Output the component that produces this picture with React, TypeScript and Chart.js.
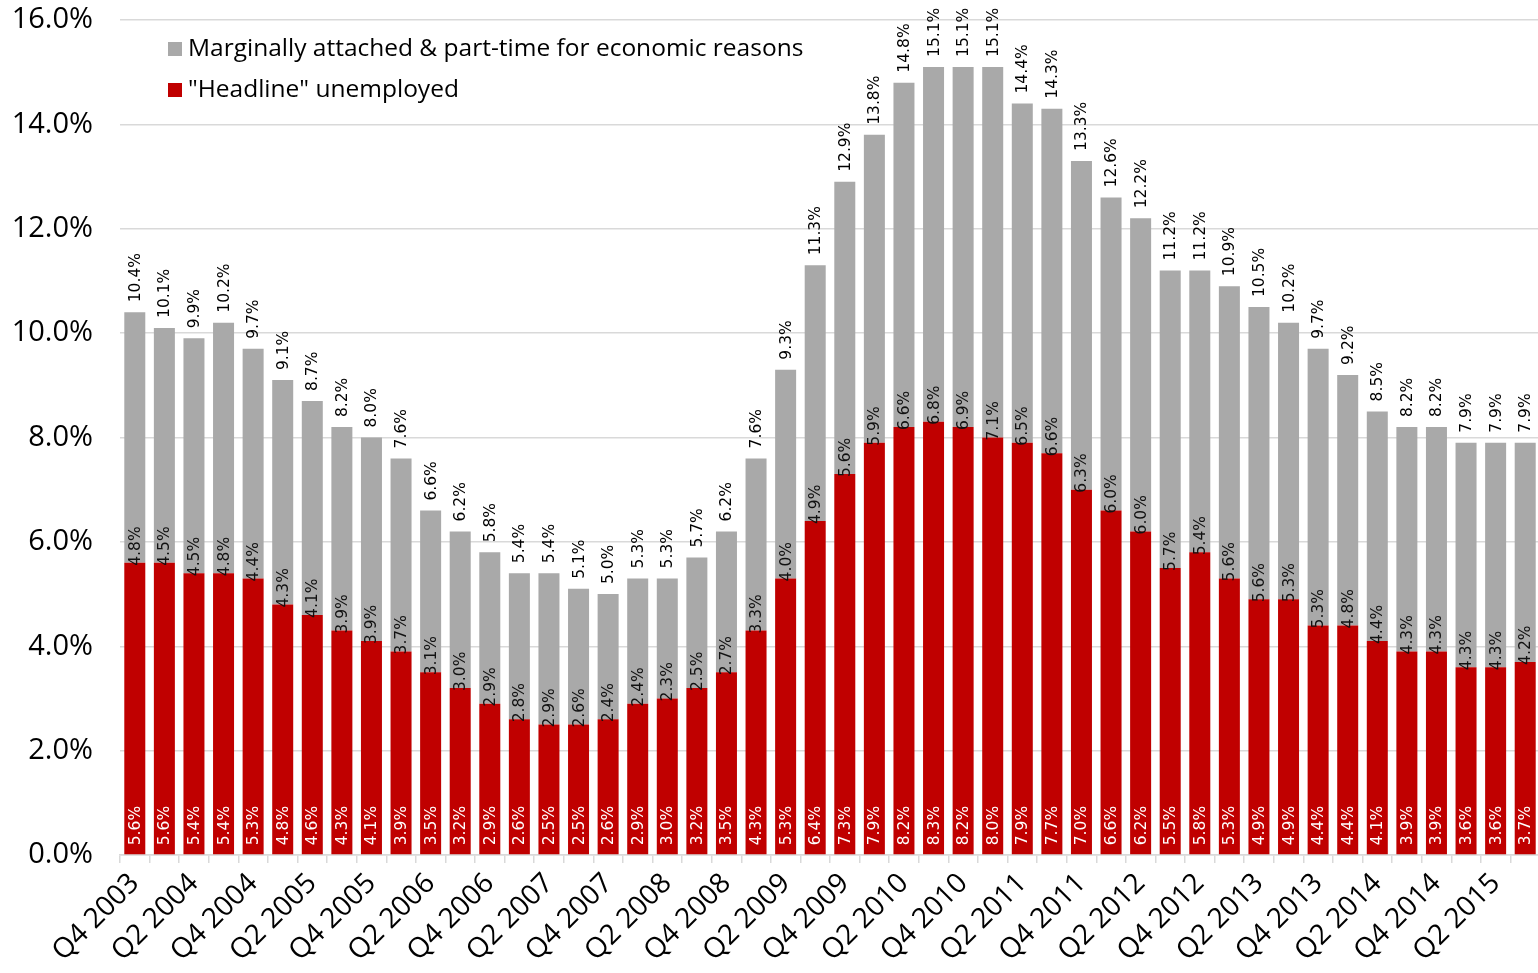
import React, { useEffect, useRef } from 'react';
import { Chart, registerables } from 'chart.js';

Chart.register(...registerables);

const quarters = [
  'Q4 2003',
  'Q1 2004', 'Q2 2004', 'Q3 2004', 'Q4 2004',
  'Q1 2005', 'Q2 2005', 'Q3 2005', 'Q4 2005',
  'Q1 2006', 'Q2 2006', 'Q3 2006', 'Q4 2006',
  'Q1 2007', 'Q2 2007', 'Q3 2007', 'Q4 2007',
  'Q1 2008', 'Q2 2008', 'Q3 2008', 'Q4 2008',
  'Q1 2009', 'Q2 2009', 'Q3 2009', 'Q4 2009',
  'Q1 2010', 'Q2 2010', 'Q3 2010', 'Q4 2010',
  'Q1 2011', 'Q2 2011', 'Q3 2011', 'Q4 2011',
  'Q1 2012', 'Q2 2012', 'Q3 2012', 'Q4 2012',
  'Q1 2013', 'Q2 2013', 'Q3 2013', 'Q4 2013',
  'Q1 2014', 'Q2 2014', 'Q3 2014', 'Q4 2014',
  'Q1 2015', 'Q2 2015', 'Q3 2015',
];

const headline = [
  5.6, 5.6, 5.4, 5.4, 5.3, 4.8, 4.6, 4.3, 4.1, 3.9, 3.5, 3.2,
  2.9, 2.6, 2.5, 2.5, 2.6, 2.9, 3.0, 3.2, 3.5, 4.3, 5.3, 6.4,
  7.3, 7.9, 8.2, 8.3, 8.2, 8.0, 7.9, 7.7, 7.0, 6.6, 6.2, 5.5,
  5.8, 5.3, 4.9, 4.9, 4.4, 4.4, 4.1, 3.9, 3.9, 3.6, 3.6, 3.7,
];

const marginal = [
  4.8, 4.5, 4.5, 4.8, 4.4, 4.3, 4.1, 3.9, 3.9, 3.7, 3.1, 3.0,
  2.9, 2.8, 2.9, 2.6, 2.4, 2.4, 2.3, 2.5, 2.7, 3.3, 4.0, 4.9,
  5.6, 5.9, 6.6, 6.8, 6.9, 7.1, 6.5, 6.6, 6.3, 6.0, 6.0, 5.7,
  5.4, 5.6, 5.6, 5.3, 5.3, 4.8, 4.4, 4.3, 4.3, 4.3, 4.3, 4.2,
];

const totals = [
  10.4, 10.1, 9.9, 10.2, 9.7, 9.1, 8.7, 8.2, 8.0, 7.6, 6.6, 6.2,
  5.8, 5.4, 5.4, 5.1, 5.0, 5.3, 5.3, 5.7, 6.2, 7.6, 9.3, 11.3,
  12.9, 13.8, 14.8, 15.1, 15.1, 15.1, 14.4, 14.3, 13.3, 12.6, 12.2, 11.2,
  11.2, 10.9, 10.5, 10.2, 9.7, 9.2, 8.5, 8.2, 8.2, 7.9, 7.9, 7.9,
];

const seriesNames = ['"Headline" unemployed', 'Marginally attached & part-time for economic reasons'];
const RED = '#C00000';
const GRAY = '#A9A9A9';
const AXIS_FONT = '"Open Sans", sans-serif';
const LABEL_FONT = '"DejaVu Sans", sans-serif';

const fmt = (v: number) => v.toFixed(1) + '%';

const labelPlugin = {
  id: 'barLabels',
  afterDatasetsDraw(chart: any) {
    const ctx = chart.ctx;
    const redMeta = chart.getDatasetMeta(0);
    const grayMeta = chart.getDatasetMeta(1);
    ctx.save();
    ctx.font = `15.5px ${LABEL_FONT}`;
    ctx.textAlign = 'left';
    ctx.textBaseline = 'middle';
    const drawRot = (text: string, x: number, y: number, color: string) => {
      ctx.save();
      ctx.translate(x, y);
      ctx.rotate(-Math.PI / 2);
      ctx.fillStyle = color;
      ctx.fillText(text, 0, 1);
      ctx.restore();
    };
    for (let i = 0; i < headline.length; i++) {
      const r = redMeta.data[i] as any;
      const g = grayMeta.data[i] as any;
      if (!r || !g) continue;
      drawRot(fmt(headline[i]), r.x, r.base - 9, '#FFFFFF');
      drawRot(fmt(marginal[i]), g.x, r.y + 3, '#111111');
      drawRot(fmt(totals[i]), g.x, g.y - 10, '#000000');
    }
    ctx.restore();
  },
  afterDraw(chart: any) {
    const ctx = chart.ctx;
    ctx.save();
    ctx.font = `24.5px ${AXIS_FONT}`;
    ctx.textAlign = 'left';
    ctx.textBaseline = 'middle';
    const items = [
      { text: seriesNames[1], color: GRAY, y: 49 },
      { text: seriesNames[0], color: RED, y: 90 },
    ];
    items.forEach((it) => {
      ctx.fillStyle = it.color;
      ctx.fillRect(168, it.y - 7, 14, 14);
      ctx.fillStyle = '#000000';
      ctx.fillText(it.text, 188, it.y);
    });
    ctx.restore();
  },
};

export default function App() {
  const ref = useRef<HTMLCanvasElement | null>(null);
  useEffect(() => {
    if (!ref.current) return;
    const chart = new Chart(ref.current, {
      type: 'bar',
      data: {
        labels: quarters,
        datasets: [
          {
            label: seriesNames[0],
            data: headline,
            backgroundColor: RED,
            barPercentage: 0.71,
            categoryPercentage: 1,
          },
          {
            label: seriesNames[1],
            data: marginal,
            backgroundColor: GRAY,
            barPercentage: 0.71,
            categoryPercentage: 1,
          },
        ],
      },
      options: {
        animation: false,
        responsive: false,
        devicePixelRatio: 1,
        layout: { padding: { top: 20, right: 0, left: 0, bottom: 0 } },
        plugins: {
          legend: { display: false },
          tooltip: { enabled: false },
        },
        scales: {
          x: {
            stacked: true,
            grid: {
              display: true,
              drawOnChartArea: false,
              drawTicks: true,
              tickLength: 8,
              color: '#D9D9D9',
              lineWidth: 1.5,
            },
            border: { display: true, color: '#D9D9D9', width: 1.5 },
            ticks: {
              autoSkip: false,
              maxRotation: 45,
              minRotation: 45,
              padding: 4,
              color: '#000000',
              font: { family: AXIS_FONT, size: 28 },
              callback: (_v: any, i: number) => (i % 2 === 0 ? quarters[i] : ''),
            },
            afterFit: (scale: any) => {
              scale.height = 118;
              scale.paddingLeft = 0;
              scale.paddingRight = 0;
            },
          },
          y: {
            stacked: true,
            min: 0,
            max: 16,
            grid: {
              color: '#D9D9D9',
              lineWidth: 1.5,
              drawTicks: false,
            },
            border: { display: false },
            ticks: {
              stepSize: 2,
              padding: 27,
              color: '#000000',
              font: { family: AXIS_FONT, size: 29 },
              callback: (v: any) => Number(v).toFixed(1) + '%',
            },
            afterFit: (scale: any) => {
              scale.width = 120;
              scale.paddingTop = 0;
              scale.paddingBottom = 0;
            },
          },
        },
      },
      plugins: [labelPlugin],
    });
    return () => chart.destroy();
  }, []);

  return (
    <div
      style={{
        position: 'fixed',
        left: 0,
        top: 0,
        width: 1538,
        height: 973,
        overflow: 'hidden',
        background: '#FFFFFF',
      }}
    >
      <canvas ref={ref} width={1540} height={973} style={{ display: 'block', width: 1540, height: 973 }} />
    </div>
  );
}
